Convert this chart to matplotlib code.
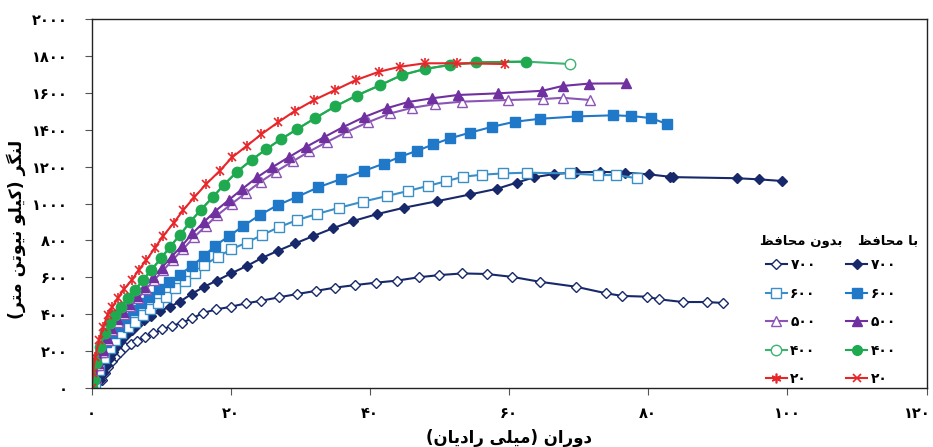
import matplotlib
matplotlib.use("Agg")
import matplotlib.pyplot as plt
from matplotlib import font_manager
from matplotlib.ft2font import FT2Font
from matplotlib.transforms import ScaledTranslation

# ---------------- data ----------------
x_700_with = [0, 1.2, 1.7, 2.2, 2.7, 3.1, 3.6, 4.2, 4.9, 5.8, 6.6, 7.6, 8.6, 9.8, 11.3, 12.7, 14.4, 16.2, 18.0, 20.1,
              22.3, 24.5, 26.8, 29.3, 31.9, 34.7, 37.6, 41.1, 44.9, 49.6, 54.4, 58.3, 61.1, 63.6, 66.5, 69.7, 73.1,
              76.7, 80.1, 83.1, 83.5, 92.7, 95.9, 99.2]
y_700_with = [0, 43, 80, 125, 161, 197, 228, 260, 287, 314, 341, 369, 390, 417, 441, 468, 510, 549, 582, 622,
              661, 705, 744, 784, 824, 866, 905, 943, 977, 1012, 1049, 1080, 1113, 1142, 1160, 1169, 1172,
              1167, 1158, 1145, 1143, 1137, 1131, 1122]

x_700_without = [0, 1.5, 1.9, 2.4, 2.9, 3.5, 4.1, 4.8, 5.7, 6.6, 7.7, 8.9, 10.2, 11.5, 13.0, 14.5, 16.0, 17.9, 20.0,
                 22.2, 24.4, 27.0, 29.5, 32.2, 35.0, 37.9, 40.9, 43.9, 47.0, 50.0, 53.3, 56.8, 60.5, 64.4, 69.6,
                 74.0, 76.3, 79.8, 81.5, 85.0, 88.4, 90.7]
y_700_without = [0, 43, 80, 115, 148, 173, 197, 221, 238, 256, 275, 296, 318, 336, 354, 378, 406, 426, 440,
                 459, 473, 492, 509, 526, 544, 558, 571, 582, 600, 612, 621, 618, 602, 576, 549,
                 513, 499, 495, 481, 466, 466, 461]

x_600_with = [0, 0.65, 1.3, 2.1, 2.9, 3.9, 4.8, 5.9, 7.1, 8.3, 9.7, 11.2, 12.7, 14.4, 16.2, 17.7, 19.8, 21.8, 24.2,
              26.8, 29.6, 32.6, 35.9, 39.1, 42.0, 44.4, 46.8, 49.1, 51.5, 54.4, 57.6, 60.8, 64.4, 69.8, 75.0,
              77.6, 80.4, 82.7]
y_600_with = [0, 125, 197, 251, 296, 336, 378, 423, 459, 495, 535, 572, 615, 661, 715, 770, 824, 878, 938,
              992, 1037, 1088, 1133, 1176, 1216, 1254, 1286, 1320, 1353, 1384, 1416, 1443, 1459, 1472, 1478,
              1474, 1463, 1431]

x_600_without = [0, 0.5, 1.1, 1.8, 2.6, 3.4, 4.3, 5.3, 6.25, 7.4, 8.4, 9.5, 10.7, 12.0, 13.4, 14.9, 16.2, 18.2,
                 20.1, 22.3, 24.5, 26.9, 29.6, 32.4, 35.6, 39.0, 42.4, 45.5, 48.4, 51.0, 53.4, 56.1, 59.1, 62.6,
                 68.8, 72.8, 75.4, 78.4]
y_600_without = [0, 25, 98, 161, 215, 260, 296, 329, 359, 396, 427, 459, 495, 540, 582, 622, 667, 712,
                 752, 788, 829, 871, 911, 943, 977, 1010, 1040, 1068, 1096, 1121, 1145, 1156, 1163, 1167,
                 1163, 1154, 1154, 1137]

x_500_with = [0, 0.5, 1.0, 1.6, 2.2, 2.8, 3.6, 4.5, 5.4, 6.5, 7.6, 8.8, 10.1, 11.5, 13.0, 14.5, 16.2, 17.7, 19.8,
              21.7, 23.8, 26.0, 28.4, 30.8, 33.4, 36.1, 39.1, 42.4, 45.5, 48.9, 52.6, 58.4, 64.8, 67.7, 71.5, 76.8]
y_500_with = [0, 61, 134, 206, 269, 324, 372, 414, 455, 500, 549, 600, 652, 712, 771, 838, 901, 956, 1021,
              1080, 1142, 1197, 1252, 1306, 1359, 1413, 1467, 1516, 1550, 1570, 1588, 1597, 1611, 1637, 1650, 1651]

x_500_without = [0, 0.6, 1.1, 1.7, 2.3, 3.0, 3.8, 4.7, 5.6, 6.7, 7.8, 9.0, 10.3, 11.7, 13.2, 14.8, 16.5, 18.1,
                 20.2, 22.2, 24.3, 26.5, 28.9, 31.3, 33.9, 36.7, 39.7, 42.9, 46.0, 49.4, 53.2, 59.9, 64.9, 67.7, 71.7]
y_500_without = [0, 55, 125, 195, 258, 312, 360, 402, 442, 487, 535, 585, 637, 696, 754, 820, 880, 937,
                 1000, 1058, 1118, 1173, 1228, 1282, 1335, 1388, 1440, 1488, 1518, 1539, 1552, 1561, 1566, 1573, 1561]

x_400_with = [0, 0.3, 0.6, 1.2, 1.9, 2.7, 3.4, 4.2, 5.2, 6.25, 7.4, 8.6, 10.0, 11.3, 12.7, 14.2, 15.7, 17.5, 19.0,
              20.9, 23.0, 25.1, 27.2, 29.6, 32.1, 35.0, 38.1, 41.4, 44.6, 47.9, 51.5, 55.2, 62.4]
y_400_with = [0, 43, 134, 224, 296, 351, 396, 441, 486, 531, 585, 640, 703, 766, 829, 901, 965, 1037, 1100,
              1172, 1236, 1294, 1348, 1404, 1462, 1526, 1585, 1640, 1696, 1729, 1751, 1765, 1769]

x_400_without = [0, 0.3, 0.6, 1.2, 1.9, 2.7, 3.4, 4.2, 5.2, 6.25, 7.4, 8.6, 10.0, 11.3, 12.7, 14.2, 15.7, 17.5,
                 19.0, 20.9, 23.0, 25.1, 27.2, 29.6, 32.1, 35.0, 38.1, 41.4, 44.6, 47.9, 51.5, 55.2, 62.4, 68.8]
y_400_without = [0, 43, 134, 224, 296, 351, 396, 441, 486, 531, 585, 640, 703, 766, 829, 901, 965, 1037,
                 1100, 1172, 1236, 1294, 1348, 1404, 1462, 1526, 1585, 1640, 1696, 1729, 1751, 1765, 1769, 1756]

x_20_with = [0, 0.2, 0.5, 1.1, 1.7, 2.3, 3.0, 3.8, 4.7, 5.8, 6.8, 7.9, 9.1, 10.3, 11.8, 13.2, 14.8, 16.5, 18.4,
             20.2, 22.3, 24.4, 26.8, 29.2, 32.0, 35.0, 38.0, 41.3, 44.3, 47.9, 52.5, 59.4]
y_20_with = [0, 81, 168, 260, 331, 396, 439, 488, 537, 585, 640, 694, 759, 824, 894, 965, 1035, 1106, 1176,
             1250, 1312, 1375, 1440, 1501, 1561, 1615, 1669, 1714, 1741, 1760, 1760, 1756]
x_20_without = x_20_with
y_20_without = y_20_with

series_labels = ["700", "600", "500", "400", "20"]
x_ticks = [0, 20, 40, 60, 80, 100, 120]
y_ticks = [0, 200, 400, 600, 800, 1000, 1200, 1400, 1600, 1800, 2000]

x_title = "دوران (میلی رادیان)"
y_title = "لنگر (کیلو نیوتن متر)"
head_with = "با محافظ"
head_without = "بدون محافظ"

# ---------------- font / shaping helpers ----------------
FAM = "DejaVu Sans"
bold_path = font_manager.findfont(font_manager.FontProperties(family=FAM, weight="bold"))
try:
    cmap_bold = FT2Font(bold_path).get_charmap()
except Exception:
    cmap_bold = {}
WEIGHT = "bold" if (0x06F7 in cmap_bold and 0xFEE7 in cmap_bold) else "normal"
path = font_manager.findfont(font_manager.FontProperties(family=FAM, weight=WEIGHT))
try:
    cmap = FT2Font(path).get_charmap()
except Exception:
    cmap = {}

FORMS = {  # iso, fin, ini, med
    'ا': (0xFE8D, 0xFE8E, None, None),
    'ب': (0xFE8F, 0xFE90, 0xFE91, 0xFE92),
    'ت': (0xFE95, 0xFE96, 0xFE97, 0xFE98),
    'ح': (0xFEA1, 0xFEA2, 0xFEA3, 0xFEA4),
    'د': (0xFEA9, 0xFEAA, None, None),
    'ر': (0xFEAD, 0xFEAE, None, None),
    'ظ': (0xFEC5, 0xFEC6, 0xFEC7, 0xFEC8),
    'ف': (0xFED1, 0xFED2, 0xFED3, 0xFED4),
    'ل': (0xFEDD, 0xFEDE, 0xFEDF, 0xFEE0),
    'م': (0xFEE1, 0xFEE2, 0xFEE3, 0xFEE4),
    'ن': (0xFEE5, 0xFEE6, 0xFEE7, 0xFEE8),
    'و': (0xFEED, 0xFEEE, None, None),
    'ک': (0xFB8E, 0xFB8F, 0xFB90, 0xFB91),
    'گ': (0xFB92, 0xFB93, 0xFB94, 0xFB95),
    'ی': (0xFBFC, 0xFBFD, 0xFBFE, 0xFBFF),
}
ALT = {
    'ک': (0xFED9, 0xFEDA, 0xFEDB, 0xFEDC),
    'گ': (0xFED9, 0xFEDA, 0xFEDB, 0xFEDC),
    'ی': (0xFEEF, 0xFEF0, 0xFEF3, 0xFEF4),
}


def shape(text):
    chars = list(text)
    out = []
    for i, c in enumerate(chars):
        if c not in FORMS:
            out.append(c)
            continue
        prev = chars[i - 1] if i > 0 else None
        nxt = chars[i + 1] if i + 1 < len(chars) else None
        join_prev = prev in FORMS and FORMS[prev][2] is not None
        join_next = FORMS[c][2] is not None and nxt in FORMS
        idx = 3 if (join_prev and join_next) else 1 if join_prev else 2 if join_next else 0
        forms = FORMS[c]
        if forms[idx] is None or (cmap and forms[idx] not in cmap):
            forms = ALT.get(c, forms)
        cp = forms[idx]
        if cp is None or (cmap and cp not in cmap):
            out.append(c)
        else:
            out.append(chr(cp))
    vis = "".join(reversed(out))
    return vis.translate(str.maketrans("()", ")("))


FA_DIG = str.maketrans("0123456789", "۰۱۲۳۴۵۶۷۸۹")


def fa(s):
    return str(s).translate(FA_DIG)


# ---------------- figure ----------------
fig = plt.figure(figsize=(9.33, 4.47), dpi=100)
ax = fig.add_axes([91.5 / 933, 1 - 388 / 447, (926.5 - 91.5) / 933, (388 - 19) / 447])

c_navy = "#17296a"
c_blue = "#1f78c8"
c_blue2 = "#3a8fc8"
c_purple = "#7030a0"
c_purple2 = "#8a55b5"
c_green = "#1faa4f"
c_green2 = "#3cb371"
c_red = "#e8262a"

lw = 1.5
h = {}
h["700o"], = ax.plot(x_700_without, y_700_without, color=c_navy, lw=lw, marker="D", ms=5,
                     mfc="white", mec=c_navy, mew=1.0)
h["700f"], = ax.plot(x_700_with, y_700_with, color=c_navy, lw=lw, marker="D", ms=5,
                     mfc=c_navy, mec=c_navy)
h["600o"], = ax.plot(x_600_without, y_600_without, color=c_blue2, lw=lw, marker="s", ms=7,
                     mfc="white", mec=c_blue2, mew=1.0)
h["600f"], = ax.plot(x_600_with, y_600_with, color=c_blue, lw=lw, marker="s", ms=6.5,
                     mfc=c_blue, mec=c_blue)
h["500o"], = ax.plot(x_500_without, y_500_without, color=c_purple2, lw=lw, marker="^", ms=7,
                     mfc="white", mec=c_purple2, mew=1.0)
h["500f"], = ax.plot(x_500_with, y_500_with, color=c_purple, lw=lw, marker="^", ms=7,
                     mfc=c_purple, mec=c_purple)
h["400o"], = ax.plot(x_400_without, y_400_without, color=c_green2, lw=lw, marker="o", ms=7.5,
                     mfc="white", mec=c_green2, mew=1.0)
h["400f"], = ax.plot(x_400_with, y_400_with, color=c_green, lw=lw, marker="o", ms=7,
                     mfc=c_green, mec=c_green)
h["20f"], = ax.plot(x_20_with, y_20_with, color=c_red, lw=lw, marker="x", ms=6, mew=1.2)
ax.plot(x_20_without, y_20_without, color=c_red, lw=0, marker="|", ms=7, mew=1.2)
h["20o"] = matplotlib.lines.Line2D([], [], color=c_red, lw=lw, marker=(6, 2, 0), ms=7, mew=1.2)

ax.set_xlim(0, 120)
ax.set_ylim(0, 2000)
ax.set_xticks(x_ticks)
ax.set_yticks(y_ticks)
tfont = dict(family=[FAM], weight=WEIGHT, size=10.5)
ax.set_xticklabels([fa(v) for v in x_ticks], fontdict=tfont)
ax.set_yticklabels([fa(v) for v in y_ticks], fontdict=tfont)
ax.tick_params(axis="both", direction="out", length=5, width=0.8, color="#555555")
ax.tick_params(axis="x", pad=8)
ax.tick_params(axis="y", pad=12)
for s in ax.spines.values():
    s.set_color("#222222")
    s.set_linewidth(1.0)
# nudge the last x tick label so it stays inside the figure
last = ax.get_xticklabels()[-1]
last.set_transform(last.get_transform() + ScaledTranslation(-9 / 100, 0, fig.dpi_scale_trans))

ax.set_xlabel(shape(x_title), family=[FAM], weight=WEIGHT, size=12, labelpad=6)
ax.set_ylabel(shape(y_title), family=[FAM], weight=WEIGHT, size=12.5)
ax.yaxis.set_label_coords(-0.078, 0.43)

handles = [h["700o"], h["600o"], h["500o"], h["400o"], h["20o"],
           h["700f"], h["600f"], h["500f"], h["400f"], h["20f"]]
labels = [fa(s) for s in series_labels] * 2
leg = ax.legend(handles, labels, ncol=2, frameon=False, loc="upper left",
                bbox_to_anchor=(766 / 933, 1 - 258 / 447), bbox_transform=fig.transFigure,
                prop=dict(family=[FAM], weight=WEIGHT, size=10), handlelength=1.5,
                handletextpad=0.25, columnspacing=2.2, labelspacing=1.05, borderpad=0,
                borderaxespad=0)
fig.text(801 / 933, 1 - 241 / 447, shape(head_without), family=[FAM], weight=WEIGHT, size=9.5,
         ha="center", va="center")
fig.text(888 / 933, 1 - 241 / 447, shape(head_with), family=[FAM], weight=WEIGHT, size=9.5,
         ha="center", va="center")

fig.savefig("out.png", dpi=100)
